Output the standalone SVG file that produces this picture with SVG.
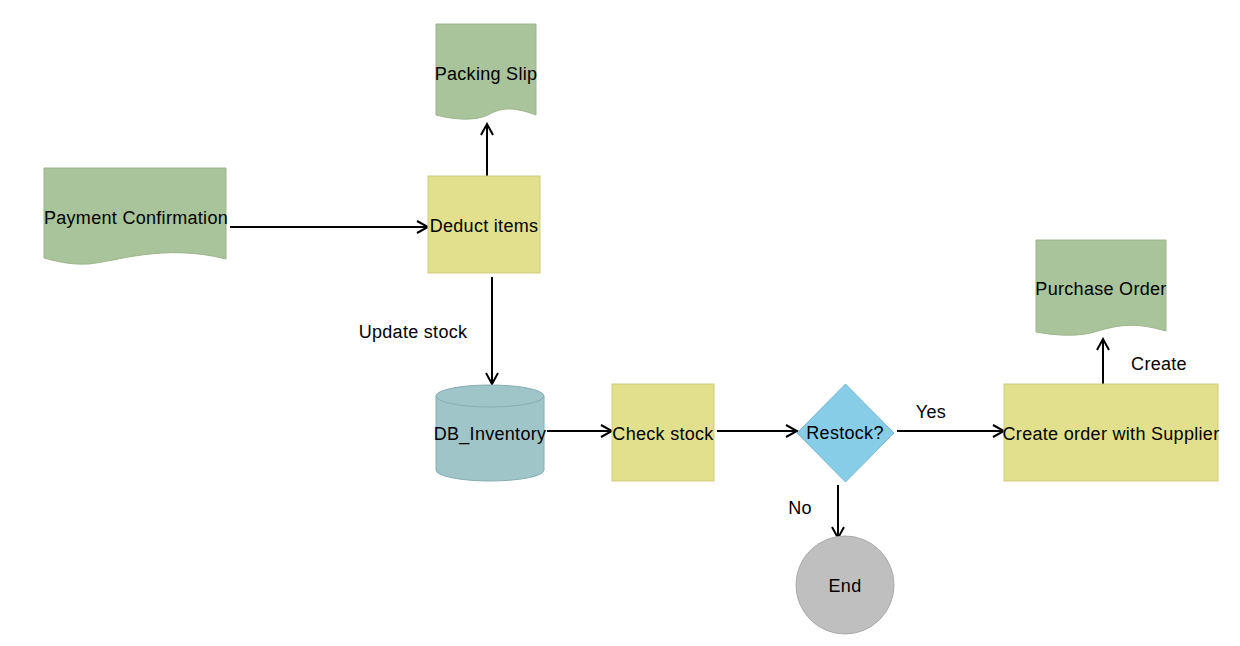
<svg xmlns="http://www.w3.org/2000/svg" width="1240" height="646" viewBox="0 0 1240 646">
<defs>
<marker id="arr" viewBox="0 0 14 14" refX="12" refY="7" markerWidth="14" markerHeight="14" markerUnits="userSpaceOnUse" orient="auto">
<path d="M1,1 L12,7 L1,13" fill="none" stroke="#000" stroke-width="2"/>
</marker>
</defs>
<style>
text{font-family:"Liberation Sans",Arial,Helvetica,sans-serif;font-size:18px;letter-spacing:0.3px;fill:#000;text-anchor:middle}
.doc{fill:#a9c39a;stroke:#9db58e;stroke-width:1}
.proc{fill:#e2e08c;stroke:#cfcd7e;stroke-width:1}
.db{fill:#9fc5c9;stroke:#86aeb2;stroke-width:1}
.dec{fill:#88cde8;stroke:#7ab8d0;stroke-width:1}
.end{fill:#bfbfbf;stroke:#aaaaaa;stroke-width:1}
.edge{fill:none;stroke:#000;stroke-width:2;marker-end:url(#arr)}
</style>
<rect width="1240" height="646" fill="#fff"/>
<g id="connectors">
<path class="edge" d="M230,227 H428"/>
<path class="edge" d="M487,176 V124"/>
<path class="edge" d="M492,277 V384"/>
<path class="edge" d="M547,431 H612"/>
<path class="edge" d="M717,431 H797"/>
<path class="edge" d="M897,431 H1004"/>
<path class="edge" d="M838,485 V538"/>
<path class="edge" d="M1103,384 V339"/>
<text x="413" y="338">Update stock</text>
<text x="931" y="418">Yes</text>
<text x="800" y="514">No</text>
<text x="1159" y="370">Create</text>
</g>
<g id="payment">
<path class="doc" d="M44,168 H226 V259 C163,243 115,262 88,264 C70,265 55,261 44,258 Z"/>
<text x="136" y="224">Payment Confirmation</text>
</g>
<g id="packing">
<path class="doc" d="M436,24 H536 V115 C512,106 500,108 488,115 C475,121 455,120 436,115 Z"/>
<text x="486" y="80">Packing Slip</text>
</g>
<g id="deduct">
<rect class="proc" x="428" y="176" width="112" height="97"/>
<text x="484" y="232">Deduct items</text>
</g>
<g id="db">
<path class="db" d="M436,396 V470 A54,11 0 0 0 544,470 V396 A54,11 0 0 0 436,396 Z"/>
<path class="db" d="M436,396 A54,11 0 0 0 544,396" fill="none"/>
<text x="490" y="440">DB_Inventory</text>
</g>
<g id="check">
<rect class="proc" x="612" y="384" width="102" height="97"/>
<text x="663" y="440">Check stock</text>
</g>
<g id="restock">
<path class="dec" d="M845.5,384 L894,433 L845.5,482 L797,433 Z"/>
<text x="845" y="439">Restock?</text>
</g>
<g id="create">
<rect class="proc" x="1004" y="384" width="214" height="97"/>
<text x="1111" y="440">Create order with Supplier</text>
</g>
<g id="purchase">
<path class="doc" d="M1036,240 H1166 V331 C1135,322 1118,325 1098,331 C1080,337 1058,336 1036,332 Z"/>
<text x="1101" y="295">Purchase Order</text>
</g>
<g id="end">
<circle class="end" cx="845" cy="585" r="49"/>
<text x="845" y="592">End</text>
</g>
</svg>
